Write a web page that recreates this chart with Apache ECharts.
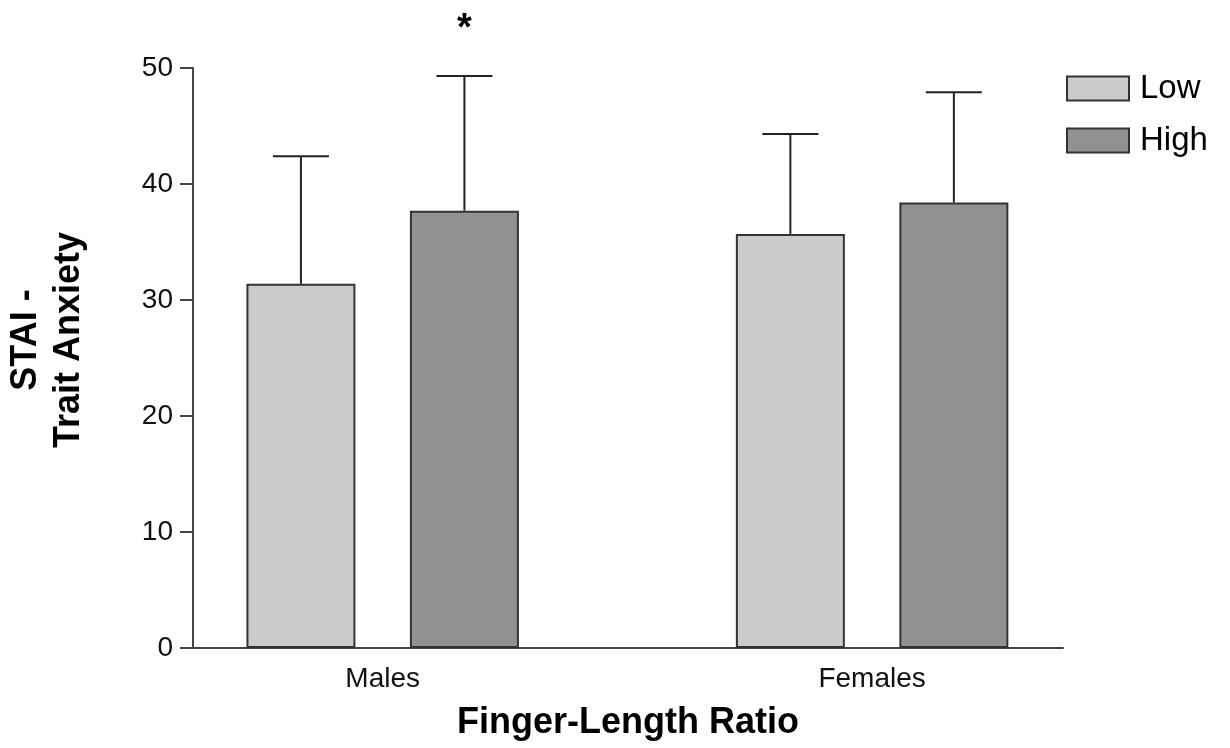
<!DOCTYPE html>
<html><head><meta charset="utf-8">
<script src="https://cdn.jsdelivr.net/npm/echarts@6/dist/echarts.min.js"></script>
<style>html,body{margin:0;padding:0;background:#fff}#c{width:1230px;height:748px}</style>
</head><body><div id="c"></div>
<script>
// ---- data ----
const categories = ['Males', 'Females'];
const categoryX = [1, 3];
const seriesNames = ['Low', 'High'];
const lowMeans = [31.4, 35.7];
const highMeans = [37.7, 38.4];
const lowSD = [11.0, 8.6];
const highSD = [11.6, 9.5];
const highMarks = ['*', ''];
const yTicks = [0, 10, 20, 30, 40, 50];

// ---- style constants ----
const FONT = "'Liberation Sans', Arial, Helvetica, sans-serif";
const BAR_W = 109;
const BAR_GAP_PX = 54.5;
const OFFSET = (BAR_W + BAR_GAP_PX) / 2;
const CAP_HALF = 28;

function errorSeries(name, means, sds, offset, marks) {
  return {
    type: 'custom', name: name, z: 3, silent: true, clip: false,
    data: means.map((m, i) => [categoryX[i], m, m + sds[i]]),
    encode: { x: 0, y: [1, 2] },
    renderItem: function (params, api) {
      const x = api.value(0);
      const base = api.coord([x, api.value(1)]);
      const top = api.coord([x, api.value(2)]);
      const cx = base[0] + offset;
      const children = [
        { type: 'line', shape: { x1: cx, y1: base[1], x2: cx, y2: top[1] }, style: { stroke: '#222', lineWidth: 2 } },
        { type: 'line', shape: { x1: cx - CAP_HALF, y1: top[1], x2: cx + CAP_HALF, y2: top[1] }, style: { stroke: '#222', lineWidth: 2 } }
      ];
      const mark = marks ? marks[params.dataIndex] : '';
      if (mark) {
        children.push({ type: 'text', style: { text: mark, x: cx, y: top[1] - 47, align: 'center', verticalAlign: 'middle',
          font: 'bold 38px ' + FONT, fill: '#000' } });
      }
      return { type: 'group', children: children };
    }
  };
}

const chart = echarts.init(document.getElementById('c'), null, { renderer: 'canvas' });
chart.setOption({
  backgroundColor: '#fff',
  animation: false,
  textStyle: { fontFamily: FONT },
  grid: { left: 193, right: 167, top: 68, bottom: 100, containLabel: false, outerBoundsMode: 'none' },
  legend: {
    orient: 'vertical', left: 1061, top: 67,
    data: seriesNames, icon: 'rect',
    itemWidth: 62, itemHeight: 24, itemGap: 19,
    textStyle: { fontSize: 33, color: '#000', fontFamily: FONT, padding: [0, 0, 0, 6] }
  },
  xAxis: {
    type: 'value', min: 0.225, max: 3.78,
    splitLine: { show: false },
    axisLine: { show: true, lineStyle: { color: '#444', width: 2 } },
    axisTick: { show: false },
    axisLabel: {
      customValues: categoryX,
      formatter: function (v) { const i = categoryX.indexOf(v); return i >= 0 ? categories[i] : ''; },
      fontSize: 28, color: '#111', margin: 17, fontFamily: FONT
    },
    name: 'Finger-Length Ratio', nameLocation: 'middle', nameGap: 57,
    nameTextStyle: { fontSize: 36, fontWeight: 'bold', color: '#000', fontFamily: FONT }
  },
  yAxis: {
    type: 'value', min: 0, max: 50, interval: 10,
    splitLine: { show: false },
    axisLine: { show: true, lineStyle: { color: '#444', width: 2 } },
    axisTick: { show: true, length: 13, lineStyle: { color: '#444', width: 2 } },
    axisLabel: { fontSize: 28, color: '#111', margin: 20, fontFamily: FONT,
      formatter: function (v) { return yTicks.indexOf(v) >= 0 ? String(v) : ''; } },
    name: 'STAI -\nTrait Anxiety', nameLocation: 'middle', nameGap: 102, nameRotate: 90,
    nameTextStyle: { fontSize: 36, fontWeight: 'bold', color: '#000', lineHeight: 43, fontFamily: FONT, padding: [0, 0, 0, 36] }
  },
  series: [
    { type: 'bar', name: seriesNames[0], barWidth: BAR_W, barGap: (BAR_GAP_PX / BAR_W * 100) + '%',
      data: lowMeans.map((m, i) => [categoryX[i], m]),
      itemStyle: { color: '#cbcbcb', borderColor: '#333', borderWidth: 2 } },
    { type: 'bar', name: seriesNames[1], barWidth: BAR_W,
      data: highMeans.map((m, i) => [categoryX[i], m]),
      itemStyle: { color: '#919191', borderColor: '#333', borderWidth: 2 } },
    errorSeries('Low SD', lowMeans, lowSD, -OFFSET, null),
    errorSeries('High SD', highMeans, highSD, OFFSET, highMarks)
  ]
});
</script>
</body></html>
